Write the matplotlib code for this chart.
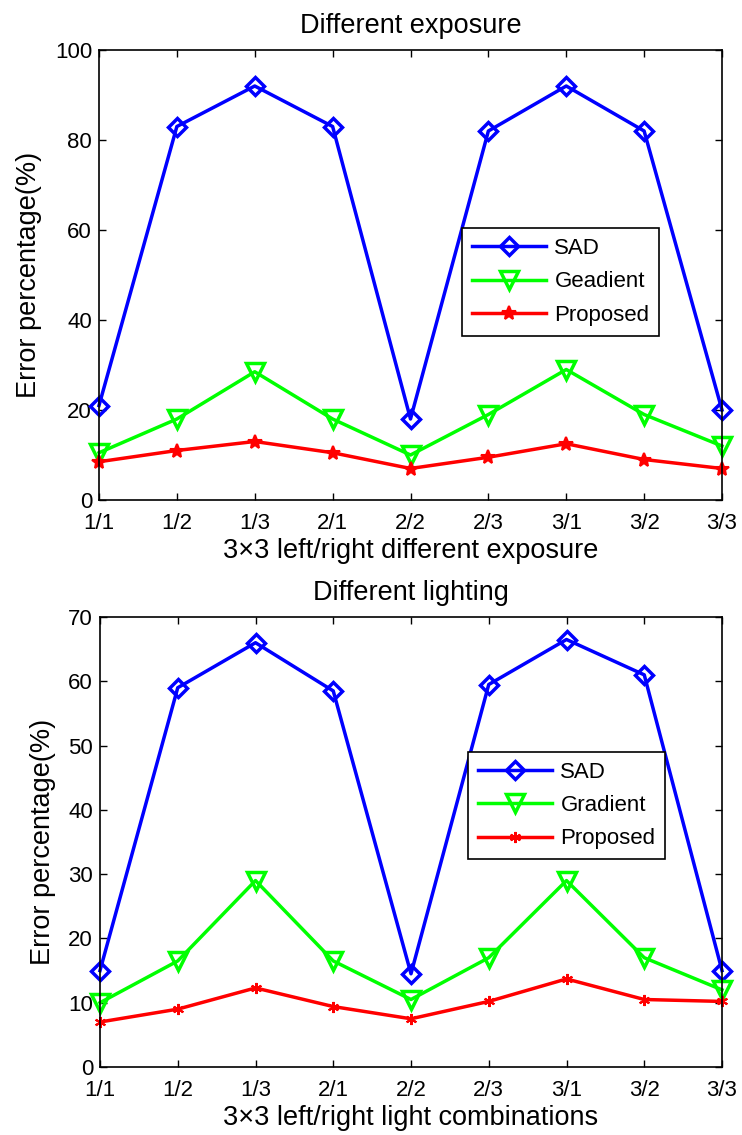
import matplotlib
matplotlib.use("Agg")
import matplotlib.pyplot as plt

plt.rcParams['font.family'] = ['Liberation Sans', 'DejaVu Sans']

categories = ["1/1", "1/2", "1/3", "2/1", "2/2", "2/3", "3/1", "3/2", "3/3"]

exp_sad = [21, 83, 92, 83, 18, 82, 92, 82, 20]
exp_grad = [10.5, 18, 28.5, 18, 10, 19, 29, 19, 12]
exp_prop = [8.5, 11, 13, 10.5, 7, 9.5, 12.5, 9, 7]

light_sad = [15, 59, 66, 58.5, 14.5, 59.5, 66.5, 61, 15]
light_grad = [10, 16.5, 29, 16.5, 10.5, 17, 29, 17, 12]
light_prop = [7, 9, 12.3, 9.4, 7.5, 10.2, 13.7, 10.5, 10.2]

fig = plt.figure(figsize=(7.42, 11.35), dpi=100)
W, H = 742, 1135

def axes_px(l, t, r, b):
    return fig.add_axes([l / W, 1 - b / H, (r - l) / W, (b - t) / H])

ax1 = axes_px(99, 50, 722, 500)
ax2 = axes_px(100, 617, 722, 1067)

FS = 19.5
TFS = 16
LFS = 16
LW = 2.5

def style(ax, ylim, yticks, title, xlabel):
    x = list(range(1, len(categories) + 1))
    ax.set_xlim(1, 9)
    ax.set_ylim(*ylim)
    ax.set_xticks(x)
    ax.set_xticklabels(categories)
    ax.set_yticks(yticks)
    ax.tick_params(direction='in', length=5, width=1, top=True, right=True,
                   labelsize=TFS)
    ax.tick_params(axis='x', pad=9.5)
    ax.tick_params(axis='y', pad=5)
    for s in ax.spines.values():
        s.set_linewidth(1.2)
    ax.set_title(title, fontsize=FS, pad=12)
    ax.set_xlabel(xlabel, fontsize=FS, labelpad=3)
    ax.set_ylabel("Error percentage(%)", fontsize=FS, labelpad=9)
    return x

def legend(ax, anchor):
    leg = ax.legend(loc='upper left', bbox_to_anchor=anchor, fontsize=LFS,
                    fancybox=False, edgecolor='black', framealpha=1,
                    handlelength=3.3, handletextpad=0.4, borderpad=0.45,
                    labelspacing=0.55, borderaxespad=0)
    leg.get_frame().set_linewidth(1.2)

x = style(ax1, (0, 100), [0, 20, 40, 60, 80, 100], "Different exposure",
          "3×3 left/right different exposure")
ax1.plot(x, exp_sad, color='#0000ff', lw=LW, marker='D', ms=9.5, mfc='none',
         mew=LW, label='SAD', clip_on=False)
ax1.plot(x, exp_grad, color='#00ff00', lw=LW, marker='v', ms=13, mfc='none',
         mew=LW, label='Geadient', clip_on=False)
ax1.plot(x, exp_prop, color='#ff0000', lw=LW, marker='*', ms=10,
         mew=1.5, label='Proposed', clip_on=False)
legend(ax1, (0.583, 0.604))

x = style(ax2, (0, 70), [0, 10, 20, 30, 40, 50, 60, 70], "Different lighting",
          "3×3 left/right light combinations")
ax2.plot(x, light_sad, color='#0000ff', lw=LW, marker='D', ms=9.5, mfc='none',
         mew=LW, label='SAD', clip_on=False)
ax2.plot(x, light_grad, color='#00ff00', lw=LW, marker='v', ms=13, mfc='none',
         mew=LW, label='Gradient', clip_on=False)
ax2.plot(x, light_prop, color='#ff0000', lw=LW, marker=(6, 2, 0), ms=8,
         mew=1.5, label='Proposed', clip_on=False)
legend(ax2, (0.592, 0.70))

fig.savefig("out.png", dpi=100)
